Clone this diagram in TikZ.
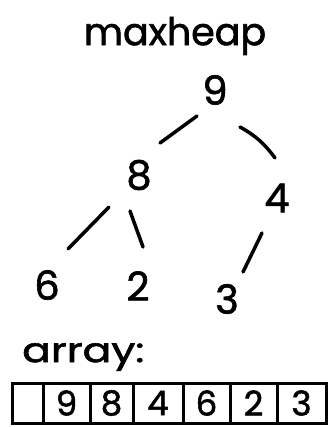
\documentclass[tikz,border=0pt]{standalone}
\usepackage{fontspec}
\setmainfont{Poppins}[FakeBold=1.6,AutoFakeBold=1.6]
\usetikzlibrary{positioning}

\begin{document}
\begin{tikzpicture}[x=1pt,y=-1pt,line width=3.5pt,line cap=round,
    key/.style={inner sep=0pt,font=\fontsize{40}{40}\selectfont\bfseries},
    cell/.style={draw,outer sep=0pt,inner sep=0pt,minimum height=40pt,line width=3pt,font=\fontsize{34}{34}\selectfont\bfseries}]
  \useasboundingbox (0,0) rectangle (329,427);
  \node[inner sep=0pt,font=\fontsize{38}{38}\selectfont\bfseries] (title) at (175,36) {maxheap};
  % the heap as a tree
  \node[key] (n9) at (215,90) {9};
  \node[key] (n8) at (139,175) {8};
  \node[key] (n4) at (277,198) {4};
  \node[key] (n6) at (47,285) {6};
  \node[key] (n2) at (138,286) {2};
  \node[key] (n3) at (227,299) {3};
  \draw ([shift={(-18,26)}]n9.center) -- ([shift={(21,-32)}]n8.center);
  \draw ([shift={(25,37)}]n9.center) to[bend left=12] ([shift={(-2,-40)}]n4.center);
  \draw ([shift={(-30,32)}]n8.center) -- ([shift={(21,-36)}]n6.center);
  \draw ([shift={(-9,36)}]n8.center) -- ([shift={(5,-39)}]n2.center);
  \draw ([shift={(-15,35)}]n4.center) -- ([shift={(16,-27)}]n3.center);
  % the same heap as an array
  \node[inner sep=0pt,font=\fontsize{34}{34}\selectfont\bfseries,xscale=1.25,anchor=west] (lbl) at (20,357) {array:};
  \node[cell,minimum width=31pt,anchor=west] (c0) at (12,403) {};
  \node[cell,minimum width=47pt,right=0pt of c0] (c1) {9};
  \node[cell,minimum width=43pt,right=0pt of c1] (c2) {8};
  \node[cell,minimum width=50pt,right=0pt of c2] (c3) {4};
  \node[cell,minimum width=47pt,right=0pt of c3] (c4) {6};
  \node[cell,minimum width=47pt,right=0pt of c4] (c5) {2};
  \node[cell,minimum width=49pt,right=0pt of c5] (c6) {3};
\end{tikzpicture}
\end{document}
